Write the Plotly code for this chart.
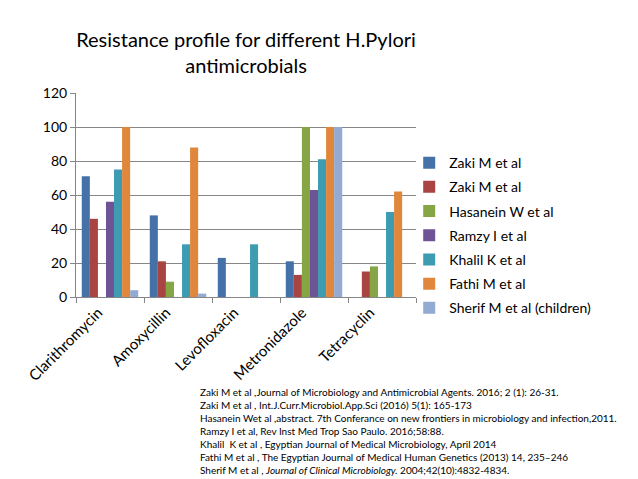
import plotly.graph_objects as go

categories = ["Clarithromycin", "Amoxycillin", "Levofloxacin", "Metronidazole", "Tetracyclin"]
series_names = ["Zaki M et al", "Zaki M et al", "Hasanein W et al", "Ramzy I et al",
                "Khalil K et al", "Fathi M et al", "Sherif M et al (children)"]
zaki1 = [71, 48, 23, 21, None]
zaki2 = [46, 21, None, 13, 15]
hasanein = [None, 9, None, 100, 18]
ramzy = [56, None, None, 63, None]
khalil = [75, 31, 31, 81, 50]
fathi = [100, 88, None, 100, 62]
sherif = [4, 2, None, 100, None]
series_values = [zaki1, zaki2, hasanein, ramzy, khalil, fathi, sherif]
colors = ["#4472A8", "#A94442", "#86A544", "#6F5495", "#3D9BB2", "#E0873C", "#93AAD3"]
y_ticks = [0, 20, 40, 60, 80, 100, 120]

references = [
    "Zaki M et al ,Journal of Microbiology and Antimicrobial Agents. 2016; 2 (1): 26-31.",
    "Zaki M et al , Int.J.Curr.Microbiol.App.Sci (2016) 5(1): 165-173",
    "Hasanein Wet al ,abstract. 7th Conferance on new frontiers in microbiology and infection,2011.",
    "Ramzy I et al, Rev Inst Med Trop Sao Paulo. 2016;58:88.",
    "Khalil  K et al , Egyptian Journal of Medical Microbiology, April 2014",
    "Fathi M et al , The Egyptian Journal of Medical Human Genetics (2013) 14, 235\u2013246",
    "Sherif M et al , <i>Journal of Clinical Microbiology.</i> 2004;42(10):4832-4834.",
]

FONT = "Lato, 'Open Sans', sans-serif"

fig = go.Figure()
for i, (name, vals, col) in enumerate(zip(series_names, series_values, colors)):
    fig.add_trace(go.Bar(x=categories, y=vals, name=name, marker_color=col,
                         marker_line_width=0, legendgroup=f"g{i}"))

fig.update_layout(
    width=638, height=479,
    margin=dict(l=76, r=222, t=93, b=182),
    paper_bgcolor="white", plot_bgcolor="white",
    barmode="group", bargap=0.17, bargroupgap=0,
    font=dict(family=FONT, color="#000000"),
    title=dict(text="Resistance profile for different H.Pylori<br>antimicrobials",
               xref="paper", x=0.5, xanchor="center",
               yref="container", y=1 - 47 / 479, yanchor="top",
               font=dict(size=20, family=FONT, color="#000000")),
    legend=dict(x=0.98, xanchor="left", y=0.735, yanchor="top",
                font=dict(size=14, family=FONT), tracegroupgap=3,
                itemwidth=30, bgcolor="rgba(0,0,0,0)"),
    xaxis=dict(tickangle=-45, tickfont=dict(size=15, family=FONT),
               ticks="outside", tickson="boundaries", ticklen=5, tickcolor="#868686",
               ticklabelshift=-12,
               showline=True, linecolor="#868686", linewidth=1),
    yaxis=dict(range=[0, 120], tickvals=y_ticks, tickfont=dict(size=14, family=FONT),
               showgrid=True, gridcolor="#868686", gridwidth=1,
               ticks="outside", ticklen=5, tickcolor="#868686",
               showline=True, linecolor="#868686", linewidth=1, zeroline=False),
)

fig.add_annotation(text="<br>".join(references), xref="paper", yref="paper",
                   x=(198 - 76) / 340, y=-(384 - 297) / 204, xanchor="left", yanchor="top",
                   align="left", showarrow=False,
                   font=dict(size=10, family=FONT, color="#000000"))

fig.write_html("out.html")
